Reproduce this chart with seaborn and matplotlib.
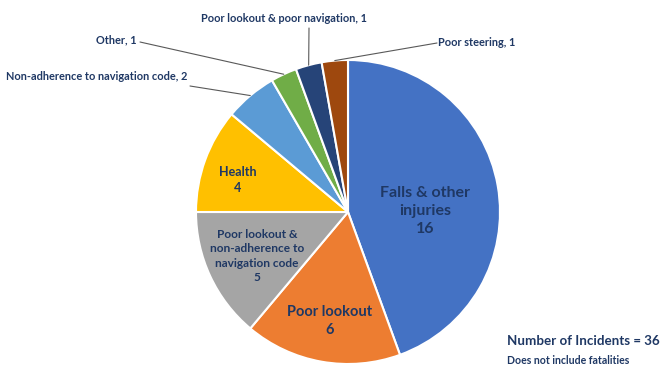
"""Incident causes pie chart."""
import matplotlib.pyplot as plt
import numpy as np
import seaborn as sns

categories = [
    "Falls & other injuries",
    "Poor lookout",
    "Poor lookout & non-adherence to navigation code",
    "Health",
    "Non-adherence to navigation code",
    "Other",
    "Poor lookout & poor navigation",
    "Poor steering",
]
counts = [16, 6, 5, 4, 2, 1, 1, 1]
colors = ["#4472C4", "#ED7D31", "#A5A5A5", "#FFC000",
          "#5B9BD5", "#70AD47", "#264478", "#9E480E"]

# wrapped names for the labels drawn inside the slices
inside_names = [
    "Falls & other\ninjuries",
    "Poor lookout",
    "Poor lookout &\nnon-adherence to\nnavigation code",
    "Health",
]

NAVY = "#1F3864"

sns.set_theme(style="white")
plt.rcParams["font.family"] = ["Lato", "DejaVu Sans"]

W, H = 667, 368
R = 152.0
cx, cy = 348.0, 212.0

fig = plt.figure(figsize=(W / 100, H / 100), dpi=100)
ax = fig.add_axes([0, 0, 1, 1])

wedges, _ = ax.pie(
    counts,
    colors=sns.color_palette(colors),
    startangle=90,
    counterclock=False,
    wedgeprops=dict(edgecolor="white", linewidth=1.5),
)
ax.set_xlim(-cx / R, (W - cx) / R)
ax.set_ylim((cy - H) / R, cy / R)
ax.set_aspect("equal")
ax.axis("off")


def px(x, y):
    return (x - cx) / R, (cy - y) / R


def mid(w):
    a = np.deg2rad((w.theta1 + w.theta2) / 2)
    return np.cos(a), np.sin(a)


# inner labels: (centre px, font size)
inner_cfg = {0: ((425, 211), 11.5), 1: ((330, 321), 10.5),
             2: ((257, 256), 8.6), 3: ((238, 180), 9)}
for i, (pos, fs) in inner_cfg.items():
    ax.text(*px(*pos), f"{inside_names[i]}\n{counts[i]}", ha="center",
            va="center", fontsize=fs, fontweight="bold", color=NAVY,
            linespacing=1.4)

# outside labels with leader lines: (text px position, ha, line start px)
outside_cfg = {
    4: ((187, 77), "right", (190, 86)),
    5: ((137, 40), "right", (140, 42)),
    6: ((284, 18), "center", (309, 28)),
    7: ((438, 42), "left", (437, 43)),
}
for i, (tpos, ha, lstart) in outside_cfg.items():
    mx, my = mid(wedges[i])
    ax.plot([px(*lstart)[0], mx], [px(*lstart)[1], my],
            color="#595959", lw=0.8)
    ax.text(*px(*tpos), f"{categories[i]}, {counts[i]}", ha=ha, va="center",
            fontsize=7.9, fontweight="bold", color=NAVY)

ax.text(*px(507, 341), f"Number of Incidents = {sum(counts)}", ha="left",
        va="center", fontsize=9.6, fontweight="bold", color=NAVY)
ax.text(*px(507, 360), "Does not include fatalities", ha="left",
        va="center", fontsize=7.6, fontweight="bold", color=NAVY)

fig.savefig("out.png", dpi=100, facecolor="white")
plt.close(fig)
